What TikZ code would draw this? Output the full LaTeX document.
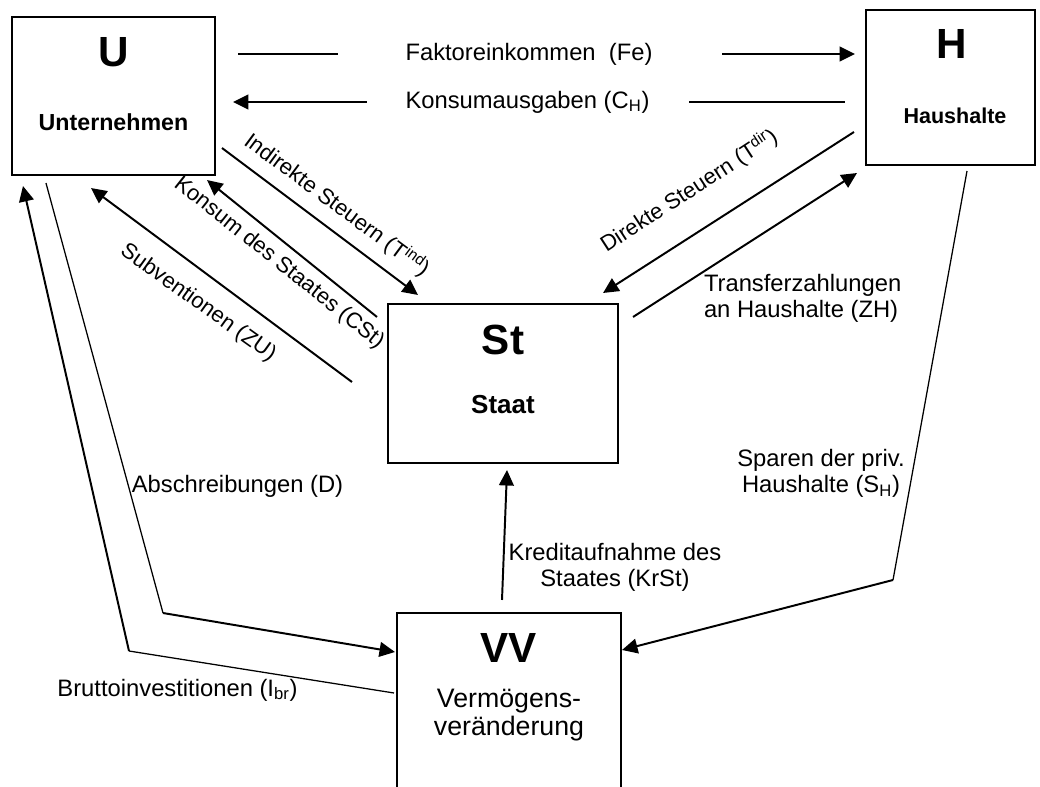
\documentclass[tikz,border=0pt]{standalone}
\usepackage{fontspec}
\setmainfont{Liberation Sans}
\usetikzlibrary{arrows.meta,calc}

\begin{document}
\begin{tikzpicture}[x=0.025cm,y=-0.025cm]
	\tikzstyle{every node}=[inner sep=0pt, outer sep=0pt, font=\fontsize{16.9}{18.5}\selectfont];
	\tikzstyle{box}=[draw, line width=1.2pt];
	\tikzstyle{big}=[font=\fontsize{30}{31}\selectfont\bfseries];
	\tikzstyle{slant}=[font=\fontsize{15.7}{17}\selectfont];
	\tikzstyle{thk}=[line width=1.4pt];
	\tikzstyle{thn}=[line width=0.9pt];
	\tikzstyle{arr}=[-{Triangle[length=11pt,width=10.5pt]}];

	\useasboundingbox (0,0) rectangle (1040,787);

	%Boxes
	\node[box, minimum width=5.075cm, minimum height=3.95cm] (u) at (113.5,96) {};
	\node[box, minimum width=4.225cm, minimum height=3.875cm] (h) at (950.5,87.5) {};
	\node[box, minimum width=5.75cm, minimum height=3.975cm] (st) at (503,383.5) {};
	\node[minimum width=5.6cm, minimum height=4.675cm] (vv) at (509,706.5) {};
	\draw[box] (vv.south west) -- (vv.north west) -- (vv.north east) -- (vv.south east);

	%Box texts
	\node[big] (ul) at (113.5,52.5) {U};
	\node[font=\fontsize{16.5}{18}\selectfont\bfseries] (uname) at (113.5,122.5) {Unternehmen};
	\node[big] (hl) at (952,44) {H};
	\node[font=\fontsize{15.3}{17}\selectfont\bfseries] (hname) at (955,116) {Haushalte};
	\node[big] (stl) at (503,340) {St};
	\node[font=\fontsize{18.5}{20}\selectfont\bfseries] (stname) at (503,405) {Staat};
	\node[big] (vvl) at (508.5,648) {VV};
	\node[align=center, font=\fontsize{19}{19.4}\selectfont] (vvname) at (509,715) {Vermögens-\\veränderung};

	%Labels
	\node (fe) at (529,54) {Faktoreinkommen~~(Fe)};
	\node (ch) at (527.5,102) {Konsumausgaben (C\textsubscript{H})};
	\node[slant, rotate=-36.5] (tind) at (337,205) {Indirekte Steuern (T\textsuperscript{ind})};
	\node[slant, rotate=-38.5] (cst) at (279,263) {Konsum des Staates (CSt)};
	\node[slant, rotate=-35.5] (zu) at (198,303) {Subventionen (ZU)};
	\node[slant, rotate=33] (tdir) at (689,191) {Direkte Steuern (T\textsuperscript{dir})};
	\node[anchor=west, align=left] (zh) at (704,298) {Transferzahlungen\\an Haushalte (ZH)};
	\node[align=center] (krst) at (615,567) {Kreditaufnahme des\\Staates (KrSt)};
	\node[align=center] (sh) at (821,473.5) {Sparen der priv.\\Haushalte (S\textsubscript{H})};
	\node (d) at (237.5,486) {Abschreibungen (D)};
	\node (ibr) at (177.5,690) {Bruttoinvestitionen (I\textsubscript{br})};

	%Lines
	\draw[thk] ($(u.east |- fe.west)+(23,0)$) -- ($(fe.west)+(-68,0)$);
	\draw[thk,arr] ($(fe.east)+(70,0)$) -- ($(h.west |- fe.east)+(-11,0)$);
	\draw[thk,arr] ($(ch.west)+(-39,0)$) -- ($(u.east |- ch.west)+(18,0)$);
	\draw[thk] ($(h.west |- ch.east)+(-21,0)$) -- ($(ch.east)+(40,0)$);

	\draw[thk,arr] ([shift={(7,-27)}]u.south east) -- ([shift={(30,-9)}]st.north west);
	\draw[thk,arr] ([shift={(-11,13)}]st.north west) -- ([shift={(-8,5)}]u.south east);
	\draw[thk,arr] ([shift={(-36,-1.5)}]st.west) -- ([shift={(-22.5,13)}]u.south);
	\draw[thk,arr] ([shift={(-12,44.5)}]h.west) -- ([shift={(-15,-11)}]st.north east);
	\draw[thk,arr] ([shift={(15,13)}]st.north east) -- ([shift={(-9,8)}]h.south west);
	\draw[thk,arr] ([shift={(-7,-13)}]vv.north) -- ([shift={(4,7)}]st.south);

	%Bends
	\coordinate (shk) at (893,580);
	\draw[thn] ([shift={(16.5,6)}]h.south) -- (shk);
	\draw[thk,arr] (shk) -- ([shift={(1,-56.5)}]vv.east);

	\coordinate (dk) at (163,613);
	\draw[thn] ([shift={(34,8)}]u.south west) -- (dk);
	\draw[thk,arr] (dk) -- ([shift={(-2,-54.5)}]vv.west);

	\coordinate (ibrk) at (129,651);
	\draw[thn] ([shift={(-3,-13.5)}]vv.west) -- (ibrk);
	\draw[thk,arr] (ibrk) -- ([shift={(11,11)}]u.south west);
\end{tikzpicture}
\end{document}
